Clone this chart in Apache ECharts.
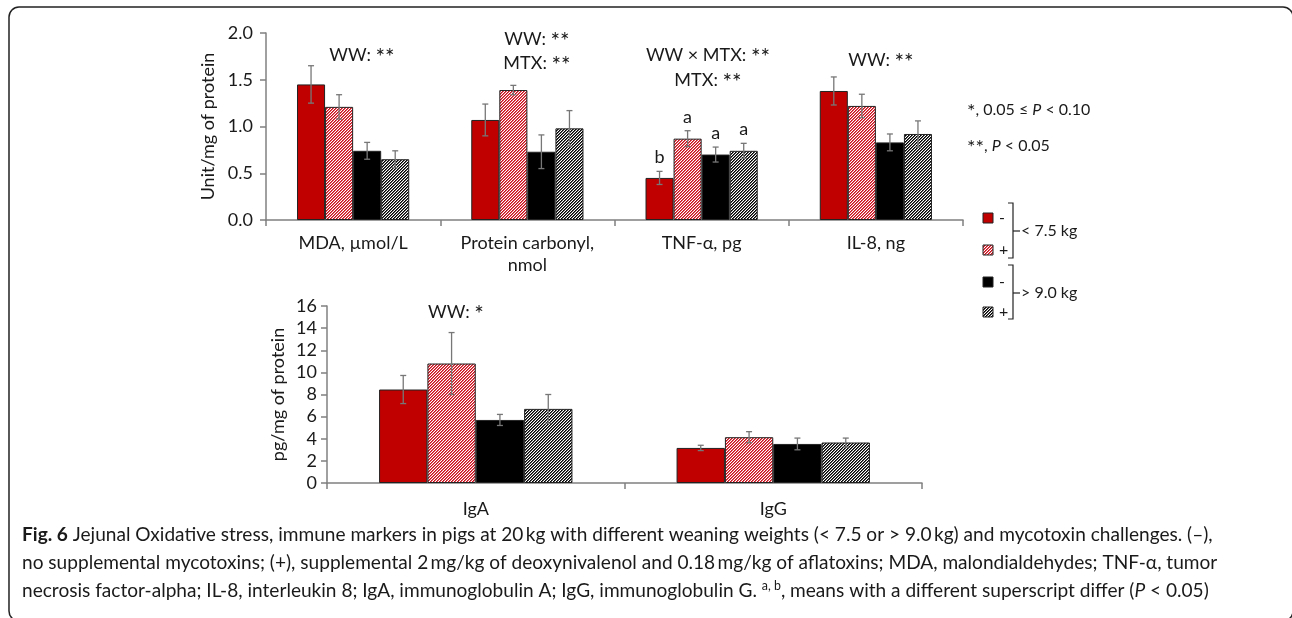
<!DOCTYPE html>
<html>
<head>
<meta charset="utf-8">
<script src="https://cdn.jsdelivr.net/npm/echarts@6.0.0/dist/echarts.min.js"></script>
<style>html,body{margin:0;padding:0;background:#fff}#c{width:1292px;height:618px}</style>
</head>
<body>
<div id="c"></div>
<script>
// ---------------- data ----------------
const topCategories = ['MDA, µmol/L', 'Protein carbonyl,\nnmol', 'TNF-α, pg', 'IL-8, ng'];
const topTicks = [0, 0.5, 1.0, 1.5, 2.0];
const topLtMinus = [1.45, 1.07, 0.45, 1.38];
const topLtPlus  = [1.21, 1.39, 0.87, 1.22];
const topGtMinus = [0.74, 0.73, 0.70, 0.83];
const topGtPlus  = [0.65, 0.98, 0.74, 0.92];
const topLtMinusErr = [0.20, 0.17, 0.07, 0.15];
const topLtPlusErr  = [0.13, 0.05, 0.085, 0.125];
const topGtMinusErr = [0.09, 0.18, 0.08, 0.09];
const topGtPlusErr  = [0.09, 0.19, 0.08, 0.14];
const tnfLetters = ['b', 'a', 'a', 'a'];   // superscripts over TNF-α bars

const botCategories = ['IgA', 'IgG'];
const botTicks = [0, 2, 4, 6, 8, 10, 12, 14, 16];
const botLtMinus = [8.45, 3.17];
const botLtPlus  = [10.8, 4.14];
const botGtMinus = [5.7, 3.53];
const botGtPlus  = [6.7, 3.66];
const botLtMinusErr = [1.27, 0.24];
const botLtPlusErr  = [2.8, 0.5];
const botGtMinusErr = [0.5, 0.53];
const botGtPlusErr  = [1.3, 0.4];

const seriesNames = ['< 7.5 kg, −', '< 7.5 kg, +', '> 9.0 kg, −', '> 9.0 kg, +'];

// ---------------- styles ----------------
const FONT = 'Lato';
const TXT = '#1a1a1a';
const AXIS = '#808080';

function hatch(fg, mid) {
  const n = 3;
  const c = document.createElement('canvas');
  c.width = n; c.height = n;
  const g = c.getContext('2d');
  g.fillStyle = '#ffffff'; g.fillRect(0, 0, n, n);
  for (let i = 0; i < n; i++) {
    g.fillStyle = fg;  g.fillRect(i, n - 1 - i, 1, 1);
    g.fillStyle = mid; g.fillRect((i + 1) % n, n - 1 - i, 1, 1);
  }
  return c;
}
const fills = [
  '#C00000',
  { image: hatch('#C8101C', '#E25A64'), repeat: 'repeat' },
  '#000000',
  { image: hatch('#000000', '#5a5a5a'), repeat: 'repeat' }
];

const topGap = 0.356, botGap = 0.35;

function barSeries(idx, data, k, gap) {
  return {
    type: 'bar', name: seriesNames[k], xAxisIndex: idx, yAxisIndex: idx,
    data: data, barGap: '0%', barCategoryGap: (gap * 100) + '%',
    itemStyle: { color: fills[k], borderColor: '#222', borderWidth: 1 },
    z: 2
  };
}

function errSeries(idx, vals, errs, k, gap, letters) {
  return {
    type: 'custom', xAxisIndex: idx, yAxisIndex: idx, z: 10, silent: true,
    data: vals.map((v, i) => [i, v, errs[i]]),
    renderItem: function (p, api) {
      const cat = api.value(0), v = api.value(1), e = api.value(2);
      const band = api.size([1, 0])[0];
      const bw = band * (1 - gap) / 4;
      const cx = api.coord([cat, v])[0] + (k - 1.5) * bw;
      const y1 = api.coord([cat, v + e])[1];
      const y2 = api.coord([cat, v - e])[1];
      const st = { stroke: '#777', lineWidth: 1.3 };
      const ch = [
        { type: 'line', shape: { x1: cx, y1: y1, x2: cx, y2: y2 }, style: st },
        { type: 'line', shape: { x1: cx - 3, y1: y1, x2: cx + 3, y2: y1 }, style: st },
        { type: 'line', shape: { x1: cx - 3, y1: y2, x2: cx + 3, y2: y2 }, style: st }
      ];
      const L = letters ? letters[p.dataIndex] : '';
      if (L) {
        ch.push({ type: 'text', style: { text: L, x: cx, y: y1 - 14, align: 'center', verticalAlign: 'middle',
          fontSize: 18, fontFamily: FONT, fill: TXT } });
      }
      return { type: 'group', children: ch };
    }
  };
}

const topVals = [topLtMinus, topLtPlus, topGtMinus, topGtPlus];
const topErrs = [topLtMinusErr, topLtPlusErr, topGtMinusErr, topGtPlusErr];
const botVals = [botLtMinus, botLtPlus, botGtMinus, botGtPlus];
const botErrs = [botLtMinusErr, botLtPlusErr, botGtMinusErr, botGtPlusErr];

const series = [];
for (let k = 0; k < 4; k++) series.push(barSeries(0, topVals[k], k, topGap));
for (let k = 0; k < 4; k++) series.push(barSeries(1, botVals[k], k, botGap));
for (let k = 0; k < 4; k++) {
  const letters = topCategories.map((c, i) => (i === 2 ? tnfLetters[k] : ''));
  series.push(errSeries(0, topVals[k], topErrs[k], k, topGap, letters));
}
for (let k = 0; k < 4; k++) series.push(errSeries(1, botVals[k], botErrs[k], k, botGap, null));

function xAxis(idx, cats, margin) {
  return {
    type: 'category', gridIndex: idx, data: cats,
    axisLine: { lineStyle: { color: AXIS, width: 1.5 } },
    axisTick: { show: true, length: 6, lineStyle: { color: AXIS, width: 1.5 } },
    axisLabel: { color: TXT, fontSize: 18, fontFamily: FONT, margin: margin, lineHeight: 22 }
  };
}
function yAxis(idx, ticks, name, gap, dec, margin) {
  return {
    type: 'value', gridIndex: idx, min: ticks[0], max: ticks[ticks.length - 1],
    interval: ticks[1] - ticks[0],
    name: name, nameLocation: 'middle', nameGap: gap,
    nameTextStyle: { color: TXT, fontSize: 18, fontFamily: FONT },
    axisLine: { show: true, lineStyle: { color: AXIS, width: 1.5 } },
    axisTick: { show: true, length: 6, lineStyle: { color: AXIS, width: 1.5 } },
    splitLine: { show: false },
    axisLabel: { color: TXT, fontSize: 18, fontFamily: FONT, margin: margin,
      formatter: v => v.toFixed(dec) }
  };
}

// ---------------- annotations ----------------
function txt(x, y, s, size, align) {
  const marked = s.replace(/\*+/g, m => '{st|' + m + '}');
  return { type: 'text', x: x, y: y, style: { text: marked, fontSize: size, fontFamily: FONT, fill: TXT,
    align: align || 'center', verticalAlign: 'middle',
    rich: {
      i: { fontStyle: 'italic', fontSize: size, fontFamily: FONT, fill: TXT },
      st: { fontSize: size * 1.25, fontFamily: FONT, fill: TXT, padding: [size * 0.25, 0, 0, 0] }
    } } };
}
const graphics = [
  txt(362, 55, 'WW: **', 18),
  txt(537, 39, 'WW: **', 18),
  txt(537, 63, 'MTX: **', 18),
  txt(708, 55, 'WW × MTX: **', 18),
  txt(708, 80, 'MTX: **', 18),
  txt(881, 60, 'WW: **', 18),
  txt(456, 312, 'WW: *', 18),
  txt(967, 110, '*, 0.05 ≤ {i|P} < 0.10', 16, 'left'),
  txt(967, 146, '**, {i|P} < 0.05', 16, 'left')
];
// legend
const legY = [218, 250, 282, 312];
const legSign = ['-', '+', '-', '+'];
for (let k = 0; k < 4; k++) {
  graphics.push({ type: 'rect', shape: { x: 983, y: legY[k] - 5, width: 10, height: 10 },
    style: { fill: fills[k], stroke: '#222', lineWidth: 1 } });
  graphics.push(txt(999, legY[k], legSign[k], 16, 'left'));
}
function bracket(yTop, yBot, yMid, label) {
  const st = { stroke: '#222', lineWidth: 1.2, fill: null };
  graphics.push({ type: 'polyline', shape: { points: [[1008, yTop], [1013, yTop], [1013, yBot], [1008, yBot]] }, style: st });
  graphics.push({ type: 'line', shape: { x1: 1013, y1: yMid, x2: 1020, y2: yMid }, style: st });
  graphics.push(txt(1021, yMid, label, 16, 'left'));
}
bracket(203, 258, 231, '< 7.5 kg');
bracket(265, 319, 293, '> 9.0 kg');
// frame
graphics.push({ type: 'rect', shape: { x: 9, y: 7, width: 1284, height: 614, r: 10 },
  style: { fill: null, stroke: '#222', lineWidth: 1.5 } });

// caption
const captionLines = [
  [['b', 'Fig. 6'], ['n', ' Jejunal Oxidative stress, immune markers in pigs at 20\u2009kg with different weaning weights (< 7.5 or > 9.0\u2009kg) and mycotoxin challenges. (–),']],
  [['n', 'no supplemental mycotoxins; (+), supplemental 2\u2009mg/kg of deoxynivalenol and 0.18\u2009mg/kg of aflatoxins; MDA, malondialdehydes; TNF-α, tumor']],
  [['n', 'necrosis factor-alpha; IL-8, interleukin 8; IgA, immunoglobulin A; IgG, immunoglobulin G. '], ['s', 'a, b'], ['n', ', means with a different superscript differ ('], ['i', 'P'], ['n', ' < 0.05)']]
];
const CAPFONT = 'Lato';
const mctx = document.createElement('canvas').getContext('2d');
function lineWidthAt(line, fs) {
  let w = 0;
  line.forEach(([t, s]) => {
    const sz = t === 's' ? fs * 0.65 : fs;
    mctx.font = (t === 'b' ? 'bold ' : '') + (t === 'i' ? 'italic ' : '') + sz + 'px ' + CAPFONT;
    w += mctx.measureText(s).width;
  });
  return w;
}
const capFs = 100 * 1191 / lineWidthAt(captionLines[0], 100);
const capY = [535, 563, 591];
captionLines.forEach((line, li) => {
  const text = line.map(([t, s]) => '{' + t + '|' + s.replace(/[{}|]/g, '') + '}').join('');
  graphics.push({ type: 'text', x: 22, y: capY[li], style: {
    text: text, align: 'left', verticalAlign: 'middle', fill: TXT,
    rich: {
      n: { fontSize: capFs, fontFamily: CAPFONT, fill: TXT, lineHeight: 22 },
      b: { fontSize: capFs, fontFamily: CAPFONT, fontWeight: 'bold', fill: TXT, lineHeight: 22 },
      i: { fontSize: capFs, fontFamily: CAPFONT, fontStyle: 'italic', fill: TXT, lineHeight: 22 },
      s: { fontSize: capFs * 0.65, fontFamily: CAPFONT, fill: TXT, lineHeight: 10, verticalAlign: 'top' }
    } } });
});

const chart = echarts.init(document.getElementById('c'), null, { renderer: 'canvas' });
chart.setOption({
  animation: false,
  backgroundColor: '#fff',
  grid: [
    { left: 266, top: 33, width: 697, height: 187 },
    { left: 327, top: 306, width: 595, height: 177 }
  ],
  xAxis: [xAxis(0, topCategories, 12), xAxis(1, botCategories, 15)],
  yAxis: [yAxis(0, topTicks, 'Unit/mg of protein', 45, 1, 13), yAxis(1, botTicks, 'pg/mg of protein', 40, 0, 10)],
  series: series,
  graphic: graphics
});
</script>
</body>
</html>
